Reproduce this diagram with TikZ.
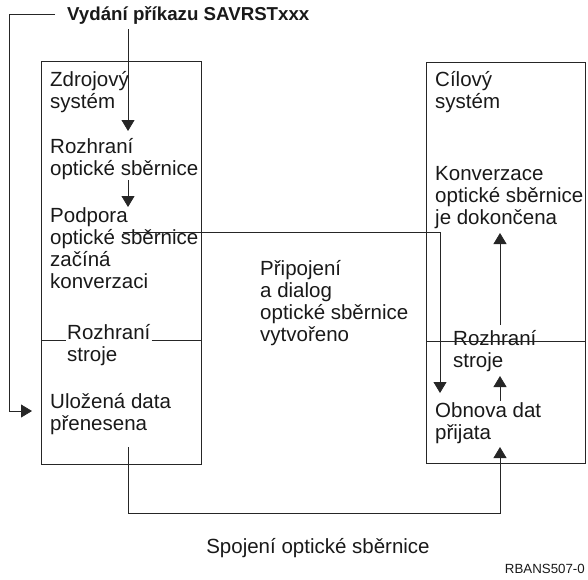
\documentclass[tikz,border=0pt]{standalone}
\usepackage{fontspec}
\setmainfont{Liberation Sans}
\usetikzlibrary{arrows.meta}
% block of left-aligned lines whose baseline is the first line's baseline
\newcommand{\lns}[1]{\begin{tabular}[t]{@{}l@{}}#1\end{tabular}}
\begin{document}
\begin{tikzpicture}[x=1pt,y=-1pt,
  line/.style={line width=0.8pt, draw=black!85},
  arr/.style={line, -{Triangle[width=13pt,length=11pt]}},
  sysbox/.style={line, anchor=north west, inner sep=0pt},
  txt/.style={anchor=base west, inner sep=0pt, text=black!90,
    font=\fontsize{20.5}{22}\selectfont},
  title/.style={anchor=base west, inner sep=0pt, text=black!90,
    font=\fontsize{18.7}{22}\selectfont\bfseries},
  small/.style={anchor=base east, inner sep=0pt, text=black!90,
    font=\fontsize{13.3}{15}\selectfont}]
\useasboundingbox (0,0) rectangle (588,579);

% the two systems
\node[sysbox, minimum width=160pt, minimum height=403pt] (src) at (41,61) {};
\node[sysbox, minimum width=159pt, minimum height=401pt] (dst) at (426,62) {};

% command line
\node[title] (cmd) at (67,20) {Vydání příkazu SAVRSTxxx};

% source system texts
\node[txt] (srcname) at (50,86)  {\lns{Zdrojový\\systém}};
\node[txt] (srcobi)  at (50,153.5) {\lns{Rozhraní\\optické sběrnice}};
\node[txt] (srcsup)  at (50,222) {\lns{Podpora\\optické sběrnice\\začíná\\konverzaci}};
\node[txt] (srcmi)   at (67,339) {\lns{Rozhraní\\stroje}};
\node[txt] (srcdata) at (50,408) {\lns{Uložená data\\přenesena}};

% target system texts
\node[txt] (dstname) at (435,86)  {\lns{Cílový\\systém}};
\node[txt] (dstconv) at (435,180) {\lns{Konverzace\\optické sběrnice\\je dokončena}};
\node[txt] (dstmi)   at (453,345) {\lns{Rozhraní\\stroje}};
\node[txt] (dstdata) at (435,417) {\lns{Obnova dat\\přijata}};

% middle and bottom labels
\node[txt] (dialog) at (260,275) {\lns{Připojení\\a dialog\\optické sběrnice\\vytvořeno}};
\node[txt, anchor=base] (link) at (318,553) {Spojení optické sběrnice};
\node[small] (fig) at (585,573) {RBANS507-0};

% machine interface dividers
\draw[line] (src.west |- 0,340) -- ([xshift=-1pt]srcmi.west |- 0,340);
\draw[line] ([xshift=1pt]srcmi.east |- 0,340) -- (src.east |- 0,340);
\draw[line] (dst.west |- 0,341) -- (dst.east |- 0,341);

% connector end points
\coordinate (fbin)  at (55,14);
\coordinate (fbout) at (32,411);
\coordinate (a1s) at (128,29);   \coordinate (a1e) at (128,131);
\coordinate (a2s) at (128,180);  \coordinate (a2e) at (128,207);
\coordinate (cs)  at (123,232);  \coordinate (ce)  at (440,393);
\coordinate (r1s) at (500,325);  \coordinate (r1e) at (500,233);
\coordinate (r2s) at (500,401);  \coordinate (r2e) at (500,376);
\coordinate (bs)  at (128,447);  \coordinate (be)  at (500,447);

% connectors
\draw[arr] (fbin) -- (9,14) -- (9,411) -- (fbout);
\draw[arr] (a1s) -- (a1e);
\draw[arr] (a2s) -- (a2e);
\draw[arr] (cs) -| (ce);
\draw[arr] (r1s) -- (r1e);
\draw[arr] (r2s) -- (r2e);
\draw[arr] (bs) -- (128,513) -| (be);
\end{tikzpicture}
\end{document}
